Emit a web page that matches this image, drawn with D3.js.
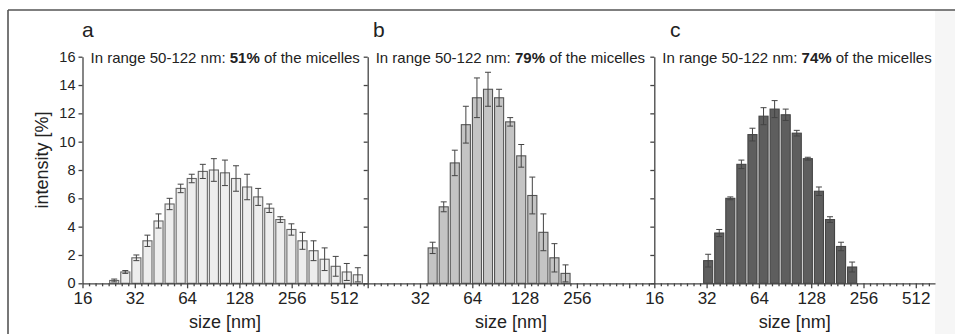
<!DOCTYPE html>
<html><head><meta charset="utf-8">
<script src="https://cdn.jsdelivr.net/npm/d3@7"></script>
<style>
body{margin:0;background:#fff}
svg{display:block}
text{font-family:"Liberation Sans",Arial,Helvetica,sans-serif;fill:#222}
</style>
</head><body>
<svg id="chart" width="955" height="334"></svg>
<script>
// ---- data (Malvern size classes, nm) ----
const sizesA  = [24.36,28.21,32.67,37.84,43.82,50.75,58.77,68.06,78.82,91.28,105.7,122.4,141.8,164.2,190.1,220.2,255.0,295.3,342.0,396.1,458.7,531.2,615.1];
const valuesA = [0.2,0.8,1.8,3.0,4.4,5.6,6.7,7.4,7.9,8.0,7.8,7.4,6.8,6.1,5.3,4.5,3.8,3.0,2.3,1.7,1.2,0.8,0.6];
const errorsA = [0.1,0.1,0.2,0.4,0.5,0.4,0.3,0.3,0.5,0.8,0.9,0.9,0.9,0.6,0.3,0.2,0.4,0.6,0.7,0.8,0.7,0.6,0.5];

const sizesB  = [37.84,43.82,50.75,58.77,68.06,78.82,91.28,105.7,122.4,141.8,164.2,190.1,220.2];
const valuesB = [2.5,5.4,8.5,11.2,13.1,13.7,13.1,11.4,9.0,6.2,3.6,1.8,0.7];
const errorsB = [0.4,0.35,0.9,1.3,1.4,1.2,0.6,0.3,0.8,1.3,1.3,1.0,0.6];

const sizesC  = [32.67,37.84,43.82,50.75,58.77,68.06,78.82,91.28,105.7,122.4,141.8,164.2,190.1,220.2];
const valuesC = [1.6,3.55,6.0,8.4,10.5,11.8,12.3,11.9,10.6,8.8,6.5,4.5,2.6,1.15];
const errorsC = [0.45,0.25,0.1,0.3,0.45,0.6,0.6,0.4,0.2,0.1,0.3,0.2,0.3,0.35];

const yTicks = [0,2,4,6,8,10,12,14,16];
const xLabelsA = [16,32,64,128,256,512];
const xLabelsB = [32,64,128,256];
const xLabelsC = [16,32,64,128,256,512];
const panelLetters = ["a","b","c"];
const rangeText = "In range 50-122 nm: ";
const percents = ["51%","79%","74%"];
const tailText = " of the micelles";
const yTitle = "intensity [%]";
const xTitle = "size [nm]";

// ---- layout ----
const svg = d3.select("#chart");
const y0 = 283.3, y16 = 56.7;
const octavePx = 52.3;
const panels = [
  {L:82.5, R:367.7, sizes:sizesA, values:valuesA, errors:errorsA, labels:xLabelsA, fill:"#ededed", stroke:"#666", letterX:82},
  {L:367.7, R:654.3, sizes:sizesB, values:valuesB, errors:errorsB, labels:xLabelsB, fill:"#c4c4c4", stroke:"#555", letterX:373},
  {L:654.3, R:935, sizes:sizesC, values:valuesC, errors:errorsC, labels:xLabelsC, fill:"#5e5e5e", stroke:"#444", letterX:670}
];

// frame
svg.append("rect").attr("x",935).attr("y",10).attr("width",20).attr("height",324).attr("fill","#f6f6f6");
svg.append("line").attr("x1",8).attr("x2",955).attr("y1",10).attr("y2",10).attr("stroke","#555").attr("stroke-width",1.6);
svg.append("line").attr("x1",8).attr("x2",8).attr("y1",10).attr("y2",334).attr("stroke","#555").attr("stroke-width",1.6);

const y = d3.scaleLinear().domain([0,16]).range([y0,y16]);

panels.forEach((p,i) => {
  const xMax = 16*Math.pow(2,(p.R-p.L)/octavePx);
  const x = d3.scaleLog().base(2).domain([16,xMax]).range([p.L,p.R]);
  const g = svg.append("g");
  const ratio = p.sizes[1]/p.sizes[0];
  const hr = Math.sqrt(ratio);

  // bars
  g.selectAll("rect.bar").data(p.values).join("rect")
    .attr("class","bar")
    .attr("x",(d,j)=>x(p.sizes[j]/hr)+1)
    .attr("width",(d,j)=>x(p.sizes[j]*hr)-x(p.sizes[j]/hr)-2)
    .attr("y",d=>y(d))
    .attr("height",d=>y(0)-y(d))
    .attr("fill",p.fill).attr("stroke",p.stroke).attr("stroke-width",1.1);

  // error bars
  const eb = g.selectAll("g.err").data(p.values).join("g").attr("class","err");
  eb.append("line")
    .attr("x1",(d,j)=>x(p.sizes[j])).attr("x2",(d,j)=>x(p.sizes[j]))
    .attr("y1",(d,j)=>y(d-p.errors[j])).attr("y2",(d,j)=>y(d+p.errors[j]))
    .attr("stroke","#444").attr("stroke-width",1);
  ["-","+"].forEach(sgn=>{
    eb.append("line")
      .attr("x1",(d,j)=>x(p.sizes[j])-3).attr("x2",(d,j)=>x(p.sizes[j])+3)
      .attr("y1",(d,j)=>y(sgn==="+"?d+p.errors[j]:d-p.errors[j]))
      .attr("y2",(d,j)=>y(sgn==="+"?d+p.errors[j]:d-p.errors[j]))
      .attr("stroke","#444").attr("stroke-width",1);
  });

  // minor x ticks
  const minor = [];
  for(let k=1;k<64;k++){ if(k%8!==0){ const v=16*Math.pow(2,k/8); if(v<xMax) minor.push(v);} }
  const gxm = g.append("g").attr("transform",`translate(0,${y0})`)
    .call(d3.axisBottom(x).tickValues(minor).tickSize(3).tickSizeOuter(0).tickFormat(""));
  gxm.select(".domain").remove();

  // major x axis
  const majors = [16,32,64,128,256,512,1024].filter(v=>v<=xMax);
  const gx = g.append("g").attr("transform",`translate(0,${y0})`)
    .call(d3.axisBottom(x).tickValues(majors).tickSize(5).tickSizeOuter(0).tickPadding(4)
      .tickFormat(d=>p.labels.includes(d)?String(d):""));
  gx.selectAll("text").style("font-size","17px").attr("fill","#222");
  [gx,gxm].forEach(a=>a.selectAll("line,path").attr("stroke","#444").attr("stroke-width",1.3));

  // y axis
  const gy = g.append("g").attr("transform",`translate(${p.L},0)`)
    .call(d3.axisLeft(y).tickValues(yTicks).tickSize(4).tickSizeOuter(0).tickPadding(3)
      .tickFormat(i===0?d3.format("d"):()=>""));
  gy.selectAll("text").style("font-size","14.5px").attr("fill","#222");
  gy.selectAll("line,path").attr("stroke","#444").attr("stroke-width",1.3);

  // annotation
  const t = g.append("text").attr("x",p.L+8).attr("y",63).style("font-size","15px");
  t.append("tspan").text(rangeText);
  t.append("tspan").attr("font-weight","bold").text(percents[i]);
  t.append("tspan").text(tailText);

  // panel letter
  g.append("text").attr("x",p.letterX).attr("y",37).style("font-size","21px").text(panelLetters[i]);

  // x title
  g.append("text").attr("x",(p.L+p.R)/2).attr("y",328).attr("text-anchor","middle")
    .style("font-size","18px").text(xTitle);
});

// y title
svg.append("text").attr("transform","translate(48,160) rotate(-90)").attr("text-anchor","middle")
  .style("font-size","18px").text(yTitle);
</script>
</body></html>
